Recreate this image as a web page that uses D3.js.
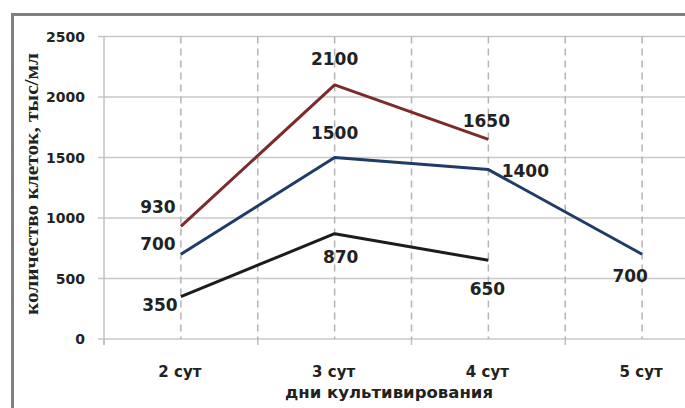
<!DOCTYPE html>
<html>
<head>
<meta charset="utf-8">
<script src="https://cdn.jsdelivr.net/npm/d3@7"></script>
<style>
  body { margin: 0; background: #fff; }
  svg { display: block; }
</style>
</head>
<body>
<svg width="685" height="408"></svg>
<script>
var categories = ["2 сут", "3 сут", "4 сут", "5 сут"];
var redValues = [930, 2100, 1650, null];
var blueValues = [700, 1500, 1400, 700];
var blackValues = [350, 870, 650, null];
var yTicks = [0, 500, 1000, 1500, 2000, 2500];

var svg = d3.select("svg"),
    width = +svg.attr("width"),
    height = +svg.attr("height");

// outer frame (only top and left edges are visible)
svg.append("path")
    .attr("d", "M12.5," + height + "V14.5H" + width)
    .attr("fill", "none")
    .attr("stroke", "#808080")
    .attr("stroke-width", 3);

var x = d3.scaleBand()
    .domain(categories)
    .range([104, 719])
    .padding(0);

var y = d3.scaleLinear()
    .domain([0, 2500])
    .range([339, 36.5]);

// horizontal grid
svg.append("g")
    .selectAll("line")
    .data(yTicks)
    .join("line")
    .attr("x1", 98)
    .attr("x2", width)
    .attr("y1", function(d) { return y(d); })
    .attr("y2", function(d) { return y(d); })
    .attr("stroke", "#c8c8c8")
    .attr("stroke-width", 1.5);

// vertical dashed grid at centres and boundaries
var bounds = categories.map(function(c) { return x(c); }).concat([x.range()[1]]);
var centres = categories.map(function(c) { return x(c) + x.bandwidth() / 2; });

svg.append("g")
    .selectAll("line")
    .data(centres.concat(bounds.slice(1)))
    .join("line")
    .attr("x1", function(d) { return d; })
    .attr("x2", function(d) { return d; })
    .attr("y1", y(2500))
    .attr("y2", y(0))
    .attr("stroke", "#b4b4b4")
    .attr("stroke-width", 1.5)
    .attr("stroke-dasharray", "7,5");

// tick marks below axis at boundaries
svg.append("g")
    .selectAll("line")
    .data(bounds)
    .join("line")
    .attr("x1", function(d) { return d; })
    .attr("x2", function(d) { return d; })
    .attr("y1", y(0))
    .attr("y2", y(0) + 6)
    .attr("stroke", "#c0c0c0")
    .attr("stroke-width", 1.5);

// y axis line
svg.append("line")
    .attr("x1", x.range()[0]).attr("x2", x.range()[0])
    .attr("y1", y(2500)).attr("y2", y(0) + 6)
    .attr("stroke", "#c0c0c0")
    .attr("stroke-width", 1.5);

// y tick labels
svg.append("g")
    .selectAll("text")
    .data(yTicks)
    .join("text")
    .attr("x", 85)
    .attr("y", function(d) { return y(d) + 5; })
    .attr("text-anchor", "end")
    .attr("font-family", "DejaVu Sans")
    .attr("font-weight", "bold")
    .attr("font-size", 14)
    .attr("fill", "#222")
    .text(function(d) { return d; });

// x tick labels
svg.append("g")
    .selectAll("text")
    .data(categories)
    .join("text")
    .attr("x", function(d) { return x(d) + x.bandwidth() / 2 - 1; })
    .attr("y", 377)
    .attr("text-anchor", "middle")
    .attr("font-family", "DejaVu Sans")
    .attr("font-weight", "bold")
    .attr("font-size", 15)
    .attr("fill", "#222")
    .text(function(d) { return d; });

// axis titles
svg.append("text")
    .attr("x", 389)
    .attr("y", 398)
    .attr("text-anchor", "middle")
    .attr("font-family", "DejaVu Sans")
    .attr("font-weight", "bold")
    .attr("font-size", 15)
    .attr("textLength", 208)
    .attr("lengthAdjust", "spacingAndGlyphs")
    .attr("fill", "#222")
    .text("дни культивирования");

svg.append("text")
    .attr("transform", "translate(38,184) rotate(-90)")
    .attr("text-anchor", "middle")
    .attr("font-family", "Liberation Serif")
    .attr("font-weight", "bold")
    .attr("font-size", 18)
    .attr("textLength", 262)
    .attr("lengthAdjust", "spacingAndGlyphs")
    .attr("fill", "#222")
    .text("количество клеток, тыс/мл");

// series
var series = [
    {values: redValues, color: "#7b2b2b",
     offsets: [[-23, -13], [0, -20], [-2, -12], null]},
    {values: blueValues, color: "#1f3b68",
     offsets: [[-23, -4], [0, -19], [37, 7], [-12, 28]]},
    {values: blackValues, color: "#1c1c1c",
     offsets: [[-21, 14], [6, 29], [-1, 35], null]}
];

var line = d3.line()
    .defined(function(d) { return d.v != null; })
    .x(function(d) { return x(d.c) + x.bandwidth() / 2; })
    .y(function(d) { return y(d.v); });

series.forEach(function(s) {
    var pts = categories.map(function(c, i) { return {c: c, v: s.values[i], off: s.offsets[i]}; });
    svg.append("path")
        .datum(pts)
        .attr("d", line)
        .attr("fill", "none")
        .attr("stroke", s.color)
        .attr("stroke-width", 3)
        .attr("stroke-linejoin", "round");

    svg.append("g")
        .selectAll("text")
        .data(pts.filter(function(d) { return d.v != null; }))
        .join("text")
        .attr("x", function(d) { return x(d.c) + x.bandwidth() / 2 + d.off[0]; })
        .attr("y", function(d) { return y(d.v) + d.off[1]; })
        .attr("text-anchor", "middle")
        .attr("font-family", "DejaVu Sans")
        .attr("font-weight", "bold")
        .attr("font-size", 17)
        .attr("fill", "#222")
        .text(function(d) { return d.v; });
});
</script>
</body>
</html>
